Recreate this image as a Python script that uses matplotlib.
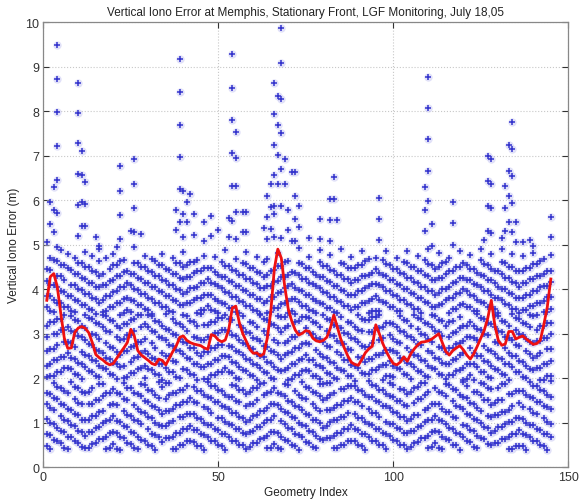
import matplotlib
matplotlib.use('Agg')
import matplotlib.pyplot as plt

# Point columns for geometry index 1..145, in cm, split in three height bands
low_band = [
"47 74 108 141 167", "40 72 99 133 165", "62 96 128 155 189", "59 87 154 180", "54 81 116 143 178",
"44 79 106 140 172", "41 69 104 131 166", "67 94 129 191", "58 92 119 154 181", "55 82 117 144 179",
"45 80 107 142 169", "43 70 105 167", "44 79 106 141 168", "53 80 115 142 177", "54 89 116 151",
"63 90 125 152 187", "64 99 126 161 188", "42 69 104 166", "43 78 105 140 167", "52 79 114 141 176",
"42 77 104 139 166", "39 67 102 164", "65 92 127 154 189", "55 90 117 152 179", "53 80 115 177",
"43 78 105 140 167", "41 68 103 130 165", "62 97 124 159 186", "60 122 149 184", "50 85 112 147 174",
"48 75 110 137 172", "38 73 100 135 162", "67 94 129 156 191", "57 92 119 181", "65 92 127 154 189",
"65 100 127 162 189", "42 69 104 131 166", "42 77 139 166", "50 77 112 139 174", "50 85 112 147 174",
"58 85 120 147 182", "58 93 120 155", "57 84 119 146 181", "48 83 110 145 172", "47 74 109 171",
"38 73 100 135 162", "68 95 130 157 192", "59 94 121 156 183", "58 85 147 182", "49 84 111 146 173",
"48 75 110 137 172", "39 74 101 136 163", "69 96 131 158", "60 95 122 157 184", "59 86 121 148 183",
"50 85 112 147 174", "49 76 111 173", "40 75 102 137 164", "45 80 107 142 169", "54 81 116 143 178",
"55 90 117 152 179", "64 91 126 188", "65 100 127 162 189", "43 70 105 132 167", "44 79 106 141 168",
"53 80 115 142 177", "43 78 140 167", "41 68 103 130 165", "62 97 124 159 186", "60 87 122 149 184",
"50 85 112 147", "48 75 110 137 172", "38 73 100 135 162", "67 94 129 156 191", "57 92 119 154 181",
"55 82 117 179", "45 80 107 142 169", "43 70 105 132 167", "64 99 126 161 188", "62 89 151 186",
"66 93 128 155 190", "66 101 128 163 190", "43 70 105 132 167", "43 78 105 140", "51 78 113 140 175",
"51 86 113 148 175", "59 86 121 148 183", "59 94 156 183", "58 85 120 147 182", "49 84 111 146 173",
"48 75 110 137 172", "39 74 101 163", "69 96 131 158 193", "60 95 122 157 184", "59 86 121 148 183",
"50 85 112 147 174", "49 76 138 173", "40 75 102 137 164", "70 97 132 159 190", "61 96 123 158 185",
"60 87 122 149", "51 86 113 148 175", "50 77 112 139 174", "41 76 103 138 165", "46 81 108 170",
"55 82 117 144 179", "56 91 118 153 180", "65 92 154 189", "66 101 128 163 190", "44 71 106 133 168",
"45 80 107 142", "54 81 116 143 178", "44 79 106 141 168", "42 69 104 131 166", "63 98 125 160 187",
"61 88 123 185", "51 86 113 148 175", "49 76 111 138 173", "39 74 136 163", "68 95 130 157 192",
"58 93 120 155 182", "56 83 118 145", "46 81 108 143 170", "44 71 106 133 168", "65 100 127 162 189",
"63 90 152 187", "53 88 115 150 177", "51 78 113 140 175", "55 82 117 144", "55 90 117 152 179",
"63 90 125 152 187", "63 98 125 187", "40 67 102 129 164", "40 75 102 137 164", "48 75 110 172",
"48 83 110 145 172", "47 74 109 136 171", "38 73 100 162", "68 95 130 157 192", "59 94 121 156 183",
"58 85 120 147 182", "49 84 146 173", "48 75 110 137 172", "39 74 101 136 163", "69 96 131 158 193",
]

mid_band = [
"202 228 261 293 318", "206 232 266 326", "206 240 266 300 326", "214 240 274 300 334", "214 248 308 334",
"222 248 282 308 342", "222 256 282 316", "220 246 280 306 340", "210 244 270 304 330", "208 234 294 328",
"198 232 258 292 318", "226 252 286 312 343", "216 250 276 336", "214 240 274 300 334", "204 238 264 298 324",
"202 228 262 288 322", "222 256 316 342", "220 246 280 306 340", "210 244 270 304 330", "208 234 268 328",
"198 232 258 292 318", "226 252 286 312 343", "201 227 261 287 321", "202 262 296 322", "211 237 271 297 331",
"212 246 272 306 332", "221 247 281 341", "222 256 282 316 342", "201 227 261 287 321", "221 255 315 341",
"219 245 279 305 339", "209 243 269 303 329", "207 233 293 327", "197 231 257 291 317", "223 251 285 311 345",
"215 249 275 309", "213 239 273 299 333", "203 237 263 297 323", "201 261 287 321", "221 255 281 315 341",
"219 245 279 305 339", "209 243 269 329", "207 233 267 293 327", "197 231 257 291 317", "225 251 285 345",
"199 225 259 285 319", "199 233 259 293 319", "207 233 267 327", "207 241 267 301 327", "215 241 275 301 335",
"215 249 275 309 335", "223 249 309 343", "213 247 273 307 333", "211 237 271 297 331", "201 235 261 295",
"199 225 259 285 319", "219 253 279 313 339", "217 243 277 303", "207 241 267 301 327", "205 231 265 291 325",
"195 229 255 289 315", "223 249 283 343", "213 247 273 307 333", "211 237 271 297 331", "201 235 261 321",
"199 225 259 285 319", "219 253 279 313 339", "217 243 303 337", "218 252 278 312 338", "197 223 257 283 317",
"198 232 258 292", "207 233 267 293 327", "208 242 268 302 328", "217 243 277 337", "218 252 278 312 338",
"216 242 276 302 336", "206 240 300 326", "204 230 264 290 324", "198 228 254 288 314", "222 248 282 342",
"212 246 272 306 332", "210 236 270 296 330", "200 234 294 320", "198 224 258 284 318", "218 252 278 312 338",
"216 242 276 302", "206 240 266 300 326", "204 230 264 290 324", "194 228 288 314", "222 248 282 308 342",
"212 246 272 306 332", "210 236 270 330", "210 244 270 304 330", "218 244 278 304 338", "218 252 312 338",
"226 252 286 312 342", "196 230 256 290 316", "204 230 264 324", "204 238 264 298 324", "202 228 262 288 322",
"222 256 282 316", "220 246 280 306 340", "210 244 304 330", "208 234 268 294 328", "198 232 258 292 318",
"226 252 286 343", "216 250 276 310 336", "214 240 274 300 334", "204 238 298 324", "202 228 262 288 322",
"222 256 282 316 342", "220 246 306 340", "210 244 270 304 330", "208 234 268 294 328", "198 232 258 318",
"207 233 267 293 327", "208 242 268 302 328", "217 243 277 303", "218 252 278 312 338", "197 223 257 283 317",
"198 232 292 318", "207 233 267 293 327", "197 231 257 291 317", "225 251 285 311 345", "215 249 309 335",
"213 239 273 299 333", "203 237 263 297 323", "201 227 261 321", "221 255 281 315 341", "219 245 279 305 339",
"209 243 303 329", "207 233 267 293 327", "197 231 257 291 317", "225 251 285 345", "215 249 275 309 335",
"213 239 273 299 333", "203 237 297 323", "201 227 261 287 321", "221 255 281 315 341", "219 245 279 339",
"223 249 283 309 343", "197 223 257 283 317", "197 231 291 317", "205 231 265 291 325", "205 239 265 299 325",
]

high_band = [
"359 385 419 445", "350 384 410 444 470", "349 375 409 465", "370 404 430 464", "369 395 429 455 489",
"360 394 420 454", "359 385 447 479", "350 384 410 444", "349 375 409 435 469", "374 400 434 460",
"365 399 425 459", "364 390 424 450 484", "355 389 415 449", "354 380 414 440 474", "345 379 405 439",
"370 404 430 464 490", "349 375 409 435", "350 384 410 471", "359 385 419 445", "360 394 420 454 480",
"369 395 429 455", "370 404 430 464", "347 379 405 439 465", "354 380 414 440", "349 375 409 435",
"374 400 434 460 494", "365 399 425 459", "364 390 424 450", "355 389 415 449 475", "354 380 414 440",
"345 379 405 439 467", "370 404 430 464", "369 395 429 455", "360 394 420 454 480", "359 385 419 445",
"350 384 410 444", "349 375 409 435 469", "374 400 434 460", "365 399 425 459", "364 390 424 450 484",
"368 394 428 454", "368 402 428 462", "376 402 436 462", "346 380 406 440 466", "354 380 414 440",
"354 388 414 448 474", "362 388 422 448", "353 387 413 447", "352 378 412 438 472", "347 373 407 433",
"368 402 428 462", "367 393 427 453 487", "358 392 418 452", "357 383 417 443", "348 382 408 442 468",
"347 373 407 433", "372 398 432 458", "363 397 423 457 483", "362 388 422 448", "353 387 413 447",
"352 378 412 438 472", "345 377 403 437", "368 402 428 462", "347 373 407 433 467", "348 382 408 442",
"357 383 417 443", "358 392 418 452 482", "367 393 427 453", "368 402 428 462", "347 373 407 433 463",
"352 378 412 438", "345 377 403 437", "372 398 432 458 492", "363 397 423 457", "362 388 422 448",
"353 387 413 447 473", "352 378 412 438", "347 373 407 433", "368 402 428 462 488", "367 393 427 453",
"358 392 418 452", "357 383 417 443 477", "348 382 408 442", "347 373 407 433", "372 398 432 458 490",
"363 397 423 457", "362 388 422 448", "353 387 413 447 473", "361 387 421 447", "361 395 421 455",
"369 395 429 455 485", "369 403 429 463", "347 373 407 433 467", "351 377 411 437", "351 385 411 445 471",
"350 376 410 436", "371 405 431 465", "370 396 430 456 486", "361 395 421 455", "360 386 420 446",
"351 385 411 445 471", "350 376 410 436", "375 401 435 461", "366 400 426 460 486", "365 391 425 451",
"356 390 416 450", "355 381 415 441 475", "346 380 406 440", "371 405 431 465", "370 396 430 456 490",
"361 395 421 455", "360 386 420 446", "365 391 425 451 481", "366 400 426 460", "375 401 435 461",
"346 380 406 440 470", "355 381 415 441", "356 390 416 450", "365 391 425 451 485", "366 400 426 460",
"361 395 421 455", "360 386 420 446 476", "351 385 411 445", "350 376 410 436", "371 405 431 465 491",
"370 396 430 456", "361 395 421 455", "360 386 420 446 480", "355 381 415 441", "346 380 406 440",
"375 401 435 461 491", "366 400 426 460", "365 391 425 451", "356 390 416 450 478", "355 381 415 441",
"346 380 406 440", "354 380 414 440 474", "354 388 414 448", "362 388 422 448", "362 396 422 456 482",
"370 396 430 456", "370 404 430 464", "348 374 408 434 468", "348 382 408 442", "356 382 416 442 476",
]

# Sparse high points (index, value in m)
out_idx = [1, 2, 2, 3, 3, 3, 4, 4, 4, 4, 4, 4, 4,
           10, 10, 10, 10, 10, 10, 11, 11, 11, 11, 12, 12, 12, 15, 16, 21,
           22, 22, 22, 22, 25, 26, 26, 26, 26, 28,
           38, 38, 39, 39, 39, 39, 39, 39, 40, 40, 40, 41, 41, 42, 43, 43,
           46, 46, 48, 48, 50, 53, 53,
           54, 54, 54, 54, 54, 54, 55, 55, 55, 55, 55, 57, 57, 58, 58, 63,
           64, 64, 64, 65, 65, 65, 66, 66, 66, 66, 66, 66, 66, 67, 67, 67, 67,
           68, 68, 68, 68, 68, 68, 68, 69, 69, 70, 70, 71, 71,
           72, 72, 72, 72, 73, 73, 76, 79, 79, 82, 82, 82, 83, 83, 84,
           96, 96, 96, 109, 109, 109, 110, 110, 110, 110, 110, 111, 111,
           117, 117, 117, 126, 127, 127, 127, 127, 128, 128, 128, 128, 131,
           132, 132, 132, 133, 133, 133, 133, 134, 134, 134, 134, 134,
           135, 135, 137, 139, 140, 145, 145]
out_val = [5.07, 5.95, 5.47, 6.29, 5.79, 5.28, 9.49, 8.72, 7.98, 7.21, 6.46, 5.71, 4.95,
           8.63, 7.95, 7.28, 6.59, 5.90, 5.20, 7.11, 6.57, 5.97, 5.41, 6.42, 5.91, 5.41, 5.17, 4.98, 4.94,
           6.76, 6.20, 5.67, 5.13, 5.30, 6.93, 6.36, 5.82, 5.28, 5.24,
           5.79, 5.33, 9.17, 8.44, 7.70, 6.98, 6.25, 5.52, 6.20, 5.70, 5.18, 5.97, 5.50, 6.15, 5.70, 5.22,
           5.50, 5.09, 5.65, 5.20, 5.33, 5.59, 5.17,
           9.29, 8.52, 7.80, 7.06, 6.31, 5.54, 7.53, 6.94, 6.33, 5.74, 5.13, 5.74, 5.28, 5.74, 5.28, 5.37,
           6.10, 5.62, 5.13, 6.36, 5.85, 5.35, 8.63, 7.94, 7.25, 6.57, 5.88, 5.69, 5.17, 8.35, 7.69, 7.02, 6.36,
           9.86, 9.08, 8.27, 7.50, 6.70, 5.88, 5.15, 6.93, 6.36, 5.79, 5.33, 6.64, 5.08,
           6.64, 6.10, 5.58, 5.09, 5.86, 5.39, 5.15, 5.58, 5.13, 6.03, 5.56, 5.08, 6.53, 6.03, 5.55,
           6.05, 5.58, 5.11, 6.29, 5.79, 5.31, 8.76, 8.07, 7.38, 6.66, 5.98, 5.47, 4.98,
           5.97, 5.49, 4.99, 5.10, 7.00, 6.44, 5.88, 5.31, 6.93, 6.36, 5.83, 5.26, 5.15,
           6.33, 5.83, 5.31, 7.24, 6.66, 6.10, 5.52, 7.76, 7.15, 6.55, 5.93, 5.28,
           5.50, 5.05, 5.05, 5.10, 4.98, 5.62, 5.17]

# Red curve (index 1..145)
red = [3.75, 4.28, 4.35, 4.05, 3.45, 2.90, 2.67, 2.68, 3.03, 3.13,
       3.16, 3.12, 3.02, 2.80, 2.53, 2.46, 2.41, 2.34, 2.30, 2.33,
       2.45, 2.57, 2.68, 2.80, 3.10, 2.95, 2.62, 2.52, 2.46, 2.40,
       2.33, 2.30, 2.43, 2.40, 2.30, 2.45, 2.60, 2.73, 2.92, 2.95,
       2.85, 2.80, 2.77, 2.75, 2.73, 2.68, 2.65, 2.98, 2.95, 2.86,
       2.82, 2.86, 3.10, 3.58, 3.62, 3.25, 3.00, 2.83, 2.65, 2.56,
       2.57, 2.50, 2.55, 2.90, 3.50, 4.45, 4.90, 4.70, 4.05, 3.55,
       3.28, 3.08, 2.97, 3.01, 3.07, 3.05, 2.90, 2.84, 2.82, 2.85,
       2.92, 3.12, 3.42, 3.15, 2.88, 2.68, 2.50, 2.36, 2.31, 2.29,
       2.42, 2.57, 2.66, 2.72, 3.20, 3.00, 2.78, 2.60, 2.45, 2.33,
       2.30, 2.36, 2.48, 2.38, 2.55, 2.66, 2.75, 2.81, 2.82, 2.84,
       2.88, 2.94, 3.00, 2.80, 2.60, 2.52, 2.62, 2.68, 2.73, 2.64,
       2.52, 2.43, 2.55, 2.72, 2.90, 3.08, 3.35, 3.75, 3.20, 2.85,
       2.74, 2.77, 3.05, 3.05, 2.88, 2.92, 2.95, 2.88, 2.82, 2.76,
       2.78, 2.85, 3.20, 3.60, 4.23]

plt.rcParams['font.family'] = ['Liberation Sans', 'DejaVu Sans']

fig = plt.figure(figsize=(5.79, 5.02), dpi=100)
fig.patch.set_facecolor('white')
ax = fig.add_axes([0.0748, 0.0673, 0.9067, 0.8865])

xs, ys = [], []
for band in (low_band, mid_band, high_band):
    for i, s in enumerate(band, start=1):
        for v in s.split():
            xs.append(i)
            ys.append(int(v) / 100.0)
xs += out_idx
ys += out_val

ax.plot(xs, ys, ls='none', marker='o', ms=6, mec='none', mfc='#c4c4f2', alpha=0.5)
ax.plot(xs, ys, ls='none', marker='+', ms=4, mew=1.1, color='#3333cc')
ax.plot(range(1, len(red) + 1), red, color='#ee1111', lw=2.0)

ax.set_xlim(0, 150)
ax.set_ylim(0, 10)
ax.set_xticks([0, 50, 100, 150])
ax.set_yticks(range(0, 11))
ax.grid(True, color='#c8c8c8', ls=':', lw=0.8)
ax.set_axisbelow(True)
ax.tick_params(direction='in', top=True, right=True, length=4, labelsize=9,
               colors='#333333', pad=3)
for sp in ax.spines.values():
    sp.set_color('#888888')
    sp.set_linewidth(0.9)

ax.set_title('Vertical Iono Error at Memphis, Stationary Front, LGF Monitoring, July 18,05',
             fontsize=8.5, color='#222222', pad=5)
ax.set_xlabel('Geometry Index', fontsize=8.5, color='#222222', labelpad=2)
ax.set_ylabel('Vertical Iono Error (m)', fontsize=8.5, color='#222222', labelpad=4)

fig.savefig('out.png', dpi=100, facecolor='white')
